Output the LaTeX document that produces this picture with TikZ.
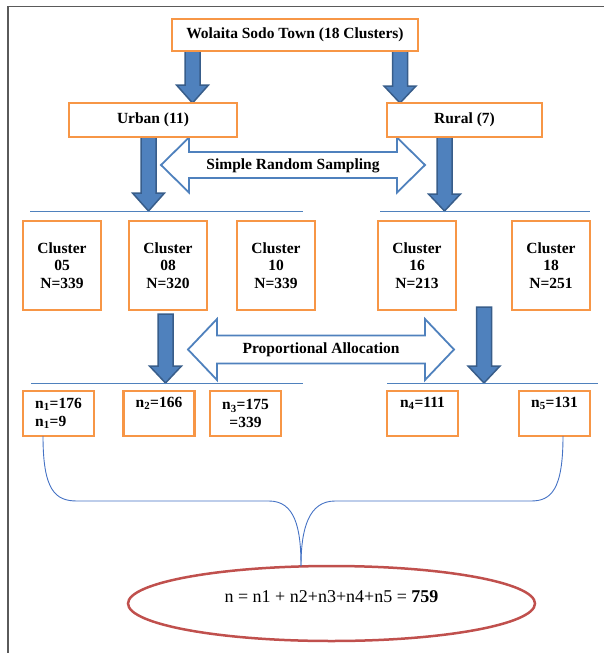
\documentclass[tikz,border=0pt]{standalone}
\usepackage{fontspec}
\setmainfont{Liberation Serif}
\usetikzlibrary{shapes.geometric}

\definecolor{boxorange}{HTML}{F79646}
\definecolor{arrowblue}{HTML}{4F81BD}
\definecolor{arrowedge}{HTML}{385D8A}
\definecolor{linkblue}{HTML}{4472C4}
\definecolor{ovalred}{HTML}{C0504D}
\definecolor{framegray}{HTML}{5A5A5A}

\tikzset{
  orangebox/.style={draw=boxorange, line width=2.7pt, fill=white, inner sep=2pt,
    align=center, font=\fontsize{15.5}{17.5}\selectfont\bfseries},
  clusterbox/.style={orangebox, minimum width=78pt, minimum height=89pt},
  samplebox/.style={orangebox, minimum width=71pt, minimum height=45pt},
  blockarrow/.style={fill=arrowblue, draw=arrowedge, line width=1.5pt, line join=miter},
  hollowarrow/.style={draw=arrowblue, line width=1.8pt, fill=white, line join=miter},
  splitline/.style={draw=arrowblue, line width=1pt},
  brace/.style={draw=linkblue, line width=0.9pt},
  sumoval/.style={ellipse, draw=ovalred, line width=2.5pt, inner sep=0pt,
    minimum width=407pt, minimum height=75pt}
}

% down block arrow: x, top, head base, tip
\newcommand{\blockdown}[4]{%
  \filldraw[blockarrow] (#1-7.5,#2) -- (#1+7.5,#2) -- (#1+7.5,#3) -- (#1+16,#3)
    -- (#1,#4) -- (#1-16,#3) -- (#1-7.5,#3) -- cycle;}
% two-headed hollow arrow: left tip, right tip, mid y, shaft half, head half, head length
\newcommand{\twoway}[6]{%
  \draw[hollowarrow] (#1,#3) -- (#1+#6,#3-#5) -- (#1+#6,#3-#4) -- (#2-#6,#3-#4)
    -- (#2-#6,#3-#5) -- (#2,#3) -- (#2-#6,#3+#5) -- (#2-#6,#3+#4)
    -- (#1+#6,#3+#4) -- (#1+#6,#3+#5) -- cycle;}

\begin{document}
\begin{tikzpicture}[x=1pt,y=-1pt]
  \useasboundingbox (0,0) rectangle (604,653);
  \draw[framegray, line width=1.5pt] (8,653) -- (8,6.5) -- (604,6.5);

  % block arrows
  \blockdown{192.5}{51}{85}{103}
  \blockdown{400}{51}{86}{103}
  \blockdown{148.5}{137}{193}{211}
  \blockdown{444.5}{137}{194}{211}
  \blockdown{165.5}{314}{366}{383}
  \blockdown{484}{307}{366}{383}

  % sampling arrows
  \twoway{161}{425}{165}{13}{27.5}{28}
  \node[font=\fontsize{15.5}{17.5}\selectfont\bfseries] (srs) at (293,166) {Simple Random Sampling};
  \twoway{188}{454}{349.5}{14}{30.5}{29}
  \node[font=\fontsize{15.5}{17.5}\selectfont\bfseries] (pa) at (321,350) {Proportional Allocation};

  \draw[splitline] (30,211) -- (303,211);
  \draw[splitline] (380,211) -- (590,211);
  \draw[splitline] (31,383) -- (303,383);
  \draw[splitline] (387,383) -- (598,383);

  % boxes
  \node[orangebox, minimum width=246pt, minimum height=32pt] (town) at (295,35) {Wolaita Sodo Town (18 Clusters)};
  \node[orangebox, minimum width=168pt, minimum height=34pt] (urban) at (153,120) {Urban (11)};
  \node[orangebox, minimum width=155pt, minimum height=34pt] (rural) at (464.5,120) {Rural (7)};

  \node[clusterbox] (c05) at (62,265.5) {Cluster\\05\\N=339};
  \node[clusterbox] (c08) at (168,265.5) {Cluster\\08\\N=320};
  \node[clusterbox] (c10) at (276,265.5) {Cluster\\10\\N=339};
  \node[clusterbox] (c16) at (417,265.5) {Cluster\\16\\N=213};
  \node[clusterbox] (c18) at (551,265.5) {Cluster\\18\\N=251};

  \node[samplebox, align=left] (n1) at (58.5,413.5) {n\textsubscript{1}=176\\n\textsubscript{1}=9};
  \node[samplebox] (n2) at (159,413.5) {n\textsubscript{2}=166\\\strut};
  \node[samplebox] (n3) at (245.5,413.5) {n\textsubscript{3}=175\\=339};
  \node[samplebox] (n4) at (422.5,413.5) {n\textsubscript{4}=111\\\strut};
  \node[samplebox] (n5) at (554.5,413.5) {n\textsubscript{5}=131\\\strut};

  % total
  \node[sumoval] (sum) at (331.5,603.5) {};
  \node[font=\fontsize{18}{20}\selectfont] (total) at (331.5,597) {n = n1 + n2+n3+n4+n5 = \textbf{759}};

  \coordinate (left) at (43,436);
  \coordinate (right) at (563,436);
  \coordinate (tip) at (301,566);
  \draw[brace] (left) .. controls (43,490) and (55,501) .. (77,501) -- (269,501)
    .. controls (295,501) and (301,528) .. (tip);
  \draw[brace] (right) .. controls (563,490) and (551,501) .. (531,501) -- (335,501)
    .. controls (309,501) and (301,528) .. (tip);
\end{tikzpicture}
\end{document}
